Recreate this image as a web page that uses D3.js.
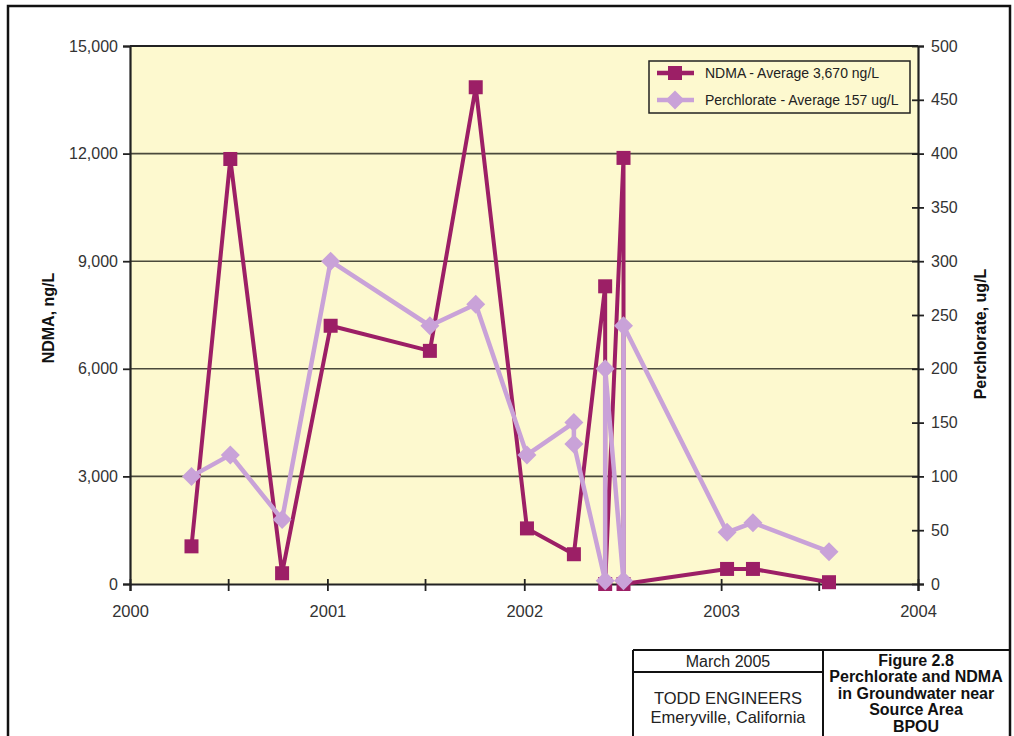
<!DOCTYPE html>
<html>
<head>
<meta charset="utf-8">
<script src="https://cdn.jsdelivr.net/npm/d3@7"></script>
<style>
  html, body { margin: 0; padding: 0; background: #ffffff; }
  svg { display: block; }
  text { font-family: "Liberation Sans", Arial, sans-serif; }
</style>
</head>
<body>
<svg id="chart" width="1014" height="736"></svg>
<script>
// Sampling dates and concentrations, well in the source area
const ndmaDates = ["2000-04-24", "2000-07-05", "2000-10-09", "2001-01-07", "2001-07-10",
  "2001-10-03", "2002-01-06", "2002-04-03", "2002-05-31", "2002-05-31",
  "2002-07-04", "2002-07-04", "2003-01-12", "2003-03-01", "2003-07-20"];
const ndmaValues = [1050, 11850, 300, 7200, 6500, 13850, 1550, 830, 8300, 0, 11880, 0, 420, 420, 50];

const perchlorateDates = ["2000-04-24", "2000-07-05", "2000-10-09", "2001-01-07", "2001-07-10",
  "2001-10-03", "2002-01-06", "2002-04-03", "2002-04-03", "2002-05-31", "2002-05-31",
  "2002-07-04", "2002-07-04", "2003-01-12", "2003-03-01", "2003-07-20"];
const perchlorateValues = [100, 120, 60, 300, 240, 260, 120, 150, 130, 3, 200, 3, 240, 48, 57, 30];

const ndmaTicks = [0, 3000, 6000, 9000, 12000, 15000];
const perchlorateTicks = [0, 50, 100, 150, 200, 250, 300, 350, 400, 450, 500];

const seriesNames = ["NDMA - Average 3,670 ng/L", "Perchlorate - Average 157 ug/L"];
const titleBlockLeft = ["March 2005", "TODD ENGINEERS", "Emeryville, California"];
const titleBlockRight = ["Figure 2.8", "Perchlorate and NDMA", "in Groundwater near", "Source Area", "BPOU"];

const parse = d3.timeParse("%Y-%m-%d");
const ndma = ndmaDates.map((d, i) => ({ date: parse(d), value: ndmaValues[i] }));
const perchlorate = perchlorateDates.map((d, i) => ({ date: parse(d), value: perchlorateValues[i] }));

const svg = d3.select("#chart");
const plotLeft = 130, plotRight = 918, plotTop = 46, plotBottom = 584;

const x = d3.scaleTime()
  .domain([new Date(2000, 0, 1), new Date(2004, 0, 1)])
  .range([plotLeft, plotRight]);
const yL = d3.scaleLinear().domain([0, 15000]).range([plotBottom, plotTop]);
const yR = d3.scaleLinear().domain([0, 500]).range([plotBottom, plotTop]);

const ndmaColor = "#9c1f66";
const perchColor = "#c9a2d8";
const plotFill = "#fdf9cf";

// Outer frame
svg.append("rect")
  .attr("x", 8).attr("y", 6).attr("width", 1002).attr("height", 760)
  .attr("fill", "none").attr("stroke", "#111").attr("stroke-width", 2.5);

// Plot background
svg.append("rect")
  .attr("x", plotLeft).attr("y", plotTop)
  .attr("width", plotRight - plotLeft).attr("height", plotBottom - plotTop)
  .attr("fill", plotFill);

// Horizontal gridlines
svg.append("g")
  .selectAll("line")
  .data(ndmaTicks.filter(t => t > 0 && t < 15000))
  .join("line")
  .attr("x1", plotLeft).attr("x2", plotRight)
  .attr("y1", d => yL(d)).attr("y2", d => yL(d))
  .attr("stroke", "#4b4a3c").attr("stroke-width", 1.6);

// Top border of plot
svg.append("line")
  .attr("x1", plotLeft).attr("x2", plotRight).attr("y1", plotTop).attr("y2", plotTop)
  .attr("stroke", "#222").attr("stroke-width", 2);

// Left axis
const leftAxis = svg.append("g")
  .attr("transform", `translate(${plotLeft},0)`)
  .call(d3.axisLeft(yL).tickValues(ndmaTicks).tickSize(7).tickPadding(5).tickFormat(d3.format(",")));
leftAxis.select(".domain").attr("stroke", "#222").attr("stroke-width", 2.2);
leftAxis.selectAll(".tick line").attr("stroke", "#222").attr("stroke-width", 1.8);
leftAxis.selectAll("text").attr("font-size", 16).attr("fill", "#333");

// Right axis
const rightAxis = svg.append("g")
  .attr("transform", `translate(${plotRight},0)`)
  .call(d3.axisRight(yR).tickValues(perchlorateTicks).tickSize(6).tickPadding(7));
rightAxis.select(".domain").attr("stroke", "#222").attr("stroke-width", 2.2);
rightAxis.selectAll(".tick line").attr("x1", -6).attr("stroke", "#222").attr("stroke-width", 1.8);
rightAxis.selectAll("text").attr("font-size", 16).attr("fill", "#333");

// Bottom axis: half-year ticks, labels on years
const bottomAxis = svg.append("g")
  .attr("transform", `translate(0,${plotBottom})`)
  .call(d3.axisBottom(x)
    .ticks(d3.timeMonth.every(6))
    .tickSize(7).tickPadding(14)
    .tickFormat(d => d.getMonth() === 0 ? d3.timeFormat("%Y")(d) : ""));
bottomAxis.select(".domain").attr("stroke", "#222").attr("stroke-width", 2.2);
bottomAxis.selectAll(".tick line").attr("y1", -5).attr("stroke", "#222").attr("stroke-width", 1.8);
bottomAxis.selectAll("text").attr("font-size", 16.5).attr("fill", "#333");

// Axis titles
svg.append("text")
  .attr("transform", `translate(54,318) rotate(-90)`)
  .attr("text-anchor", "middle")
  .attr("font-size", 16).attr("font-weight", "bold").attr("fill", "#111")
  .text("NDMA, ng/L");
svg.append("text")
  .attr("transform", `translate(986,334) rotate(-90)`)
  .attr("text-anchor", "middle")
  .attr("font-size", 16).attr("font-weight", "bold").attr("fill", "#111")
  .text("Perchlorate, ug/L");

// Series lines
const lineL = d3.line().x(d => x(d.date)).y(d => yL(d.value));
const lineR = d3.line().x(d => x(d.date)).y(d => yR(d.value));

svg.append("path").datum(ndma)
  .attr("d", lineL).attr("fill", "none")
  .attr("stroke", ndmaColor).attr("stroke-width", 4).attr("stroke-linejoin", "round");

svg.append("g").selectAll("rect")
  .data(ndma).join("rect")
  .attr("x", d => x(d.date) - 7).attr("y", d => yL(d.value) - 7)
  .attr("width", 14).attr("height", 14)
  .attr("fill", ndmaColor);

svg.append("path").datum(perchlorate)
  .attr("d", lineR).attr("fill", "none")
  .attr("stroke", perchColor).attr("stroke-width", 4.5).attr("stroke-linejoin", "round");

const diamond = d3.symbol().type(d3.symbolDiamond2).size(230);
svg.append("g").selectAll("path")
  .data(perchlorate).join("path")
  .attr("transform", d => `translate(${x(d.date)},${yR(d.value)})`)
  .attr("d", diamond)
  .attr("fill", perchColor);

// Legend
const legend = svg.append("g");
legend.append("rect")
  .attr("x", 649).attr("y", 61).attr("width", 261).attr("height", 52)
  .attr("fill", plotFill).attr("stroke", "#222").attr("stroke-width", 1.5);

const legendRows = [
  { name: seriesNames[0], color: ndmaColor, y: 73, shape: "square" },
  { name: seriesNames[1], color: perchColor, y: 100, shape: "diamond" }
];
legendRows.forEach(r => {
  legend.append("line")
    .attr("x1", 657).attr("x2", 694).attr("y1", r.y).attr("y2", r.y)
    .attr("stroke", r.color).attr("stroke-width", 4.5);
  if (r.shape === "square") {
    legend.append("rect").attr("x", 668).attr("y", r.y - 7)
      .attr("width", 14).attr("height", 14).attr("fill", r.color);
  } else {
    legend.append("path").attr("transform", `translate(675,${r.y})`)
      .attr("d", diamond).attr("fill", r.color);
  }
  legend.append("text")
    .attr("x", 705).attr("y", r.y + 5)
    .attr("font-size", 14).attr("fill", "#222")
    .text(r.name);
});

// Title block
const tb = svg.append("g").attr("stroke", "#111").attr("stroke-width", 2);
tb.append("line").attr("x1", 633).attr("x2", 1010).attr("y1", 650).attr("y2", 650);
tb.append("line").attr("x1", 633).attr("x2", 633).attr("y1", 650).attr("y2", 740);
tb.append("line").attr("x1", 823).attr("x2", 823).attr("y1", 650).attr("y2", 740);
tb.append("line").attr("x1", 633).attr("x2", 823).attr("y1", 672).attr("y2", 672);

svg.append("text").attr("x", 728).attr("y", 667)
  .attr("text-anchor", "middle").attr("font-size", 16).attr("fill", "#222")
  .text(titleBlockLeft[0]);
svg.append("text").attr("x", 728).attr("y", 704)
  .attr("text-anchor", "middle").attr("font-size", 16.5).attr("fill", "#222")
  .text(titleBlockLeft[1]);
svg.append("text").attr("x", 728).attr("y", 723)
  .attr("text-anchor", "middle").attr("font-size", 16.5).attr("fill", "#222")
  .text(titleBlockLeft[2]);

svg.append("g").selectAll("text")
  .data(titleBlockRight).join("text")
  .attr("x", 916).attr("y", (d, i) => 666 + i * 16.4)
  .attr("text-anchor", "middle")
  .attr("font-size", 16).attr("font-weight", "bold").attr("fill", "#111")
  .text(d => d);
</script>
</body>
</html>
